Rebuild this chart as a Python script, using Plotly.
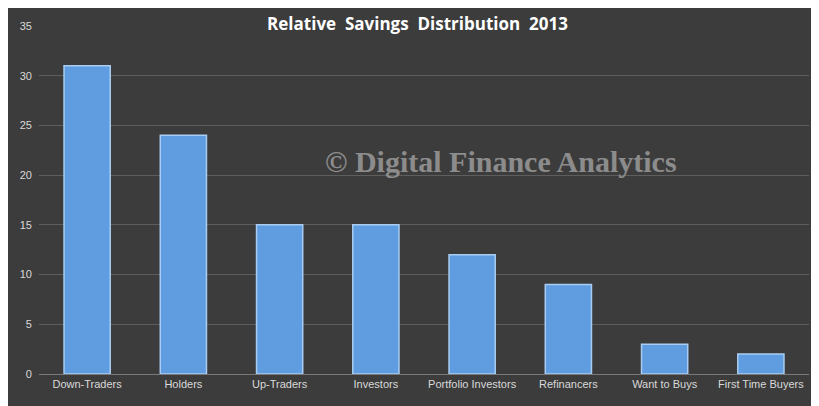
import plotly.graph_objects as go

categories = ["Down-Traders", "Holders", "Up-Traders", "Investors", "Portfolio Investors",
              "Refinancers", "Want to Buys", "First Time Buyers"]
values = [31, 24, 15, 15, 12, 9, 3, 2]

fig = go.Figure()
fig.add_trace(go.Bar(
    x=categories, y=values, width=0.48,
    marker=dict(color="#5f9de0", line=dict(color="#a9cdf2", width=1.5)),
))

fig.add_annotation(
    text="<b>© Digital Finance Analytics</b>", xref="paper", yref="paper", x=0.6, y=0.61,
    showarrow=False, font=dict(family="Liberation Serif", size=30, color="#8c8c8c"),
)

fig.update_layout(
    width=819, height=406,
    margin=dict(l=20, r=18, t=16, b=40),
    paper_bgcolor="#3c3c3c", plot_bgcolor="#3c3c3c",
    showlegend=False,
    title=dict(text="<b>Relative  Savings  Distribution  2013</b>", x=0.5, y=0.975,
               xanchor="center", font=dict(family="Open Sans", size=17, color="white")),
    font=dict(family="Liberation Sans", size=11, color="#d9d9d9"),
    bargap=0.52,
    xaxis=dict(showgrid=False, showline=True, linecolor="#7a7a7a", ticks=""),
    yaxis=dict(range=[0, 35], dtick=5, gridcolor="#5e5e5e", zeroline=False,
               showline=False, ticksuffix="  "),
)

fig.write_html("out.html")
